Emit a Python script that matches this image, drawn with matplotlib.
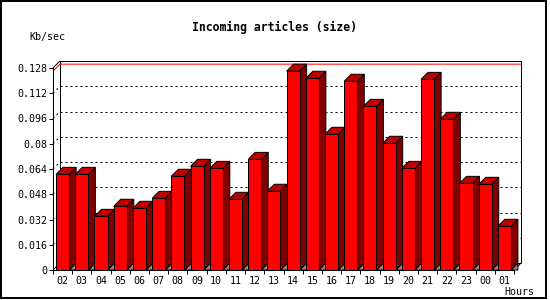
import matplotlib
matplotlib.use("Agg")
import matplotlib.pyplot as plt
from matplotlib.patches import Polygon, Rectangle

# data
hours = ["02", "03", "04", "05", "06", "07", "08", "09", "10", "11", "12", "13",
         "14", "15", "16", "17", "18", "19", "20", "21", "22", "23", "00", "01"]
kbsec = [0.0606, 0.0606, 0.0340, 0.0404, 0.0391, 0.0454, 0.0594, 0.0657,
         0.0644, 0.0448, 0.0701, 0.0499, 0.1260, 0.1215, 0.0860, 0.1196,
         0.1037, 0.0803, 0.0644, 0.1208, 0.0955, 0.0549, 0.0543, 0.0277]
yticks = [0, 0.016, 0.032, 0.048, 0.064, 0.08, 0.096, 0.112, 0.128]
ylabels = ["0", "0.016", "0.032", "0.048", "0.064", "0.08", "0.096", "0.112", "0.128"]

W, H = 550, 300
PX = 0.72  # one pixel in points at 100 dpi
FONT = "DejaVu Sans Mono"

fig = plt.figure(figsize=(5.5, 3), dpi=100)
fig.patch.set_facecolor("white")

# front plane of the pseudo 3d box, in pixels
x0, x1, y0, y1 = 53, 514, 270, 68
ax = fig.add_axes([x0 / W, 1 - y0 / H, (x1 - x0) / W, (y0 - y1) / H])
n = len(hours)
ymax = yticks[-1]
ax.set_xlim(-0.5, n - 0.5)
ax.set_ylim(0, ymax)
ax.patch.set_alpha(0)

depth = 7
dx = depth / ((x1 - x0) / n)
dy = depth / ((y0 - y1) / ymax)
left, right = -0.5, n - 0.5


def line(xs, ys, **kw):
    kw.setdefault("color", "black")
    kw.setdefault("lw", PX)
    ax.plot(xs, ys, clip_on=False, solid_capstyle="butt", **kw)


# back frame and dotted grid
line([left + dx, left + dx, right + dx, right + dx],
     [dy, ymax + dy, ymax + dy, dy], zorder=1)
line([left + dx, right + dx], [dy, dy], zorder=1)
line([left, left + dx], [ymax, ymax + dy], zorder=1)
line([left, left + dx], [0, dy], zorder=1)
line([right, right + dx], [0, dy], zorder=1)
for v in yticks[1:-1]:
    line([left + dx, right + dx], [v + dy, v + dy], zorder=1,
         linestyle=(0, (2, 3)))
    line([left, left + dx], [v, v + dy], zorder=1, linestyle=(0, (2, 3)))

# red line at the maximum
peak = max(kbsec)
line([left, left + dx, right + dx], [peak, peak + dy, peak + dy],
     color="red", zorder=1.5)

# bars
w = 0.68
for i, v in enumerate(kbsec):
    a, b = i - w / 2, i + w / 2
    z = 3 + i * 0.01
    ax.add_patch(Polygon([(b, 0), (b + dx, dy), (b + dx, 0)], closed=True,
                         fc="#8c8c8c", ec="black", lw=PX, zorder=z, clip_on=False))
    ax.add_patch(Polygon([(b, 0), (b + dx, dy), (b + dx, v + dy), (b, v)], closed=True,
                         fc="#800000", ec="black", lw=PX, zorder=z, clip_on=False))
    ax.add_patch(Polygon([(a, v), (a + dx, v + dy), (b + dx, v + dy), (b, v)], closed=True,
                         fc="#c00000", ec="black", lw=PX, zorder=z, clip_on=False))
    ax.add_patch(Rectangle((a, 0), w, v, fc="#ff0000", ec="black", lw=PX,
                           zorder=z, clip_on=False))

# axes
for s in ["top", "right"]:
    ax.spines[s].set_visible(False)
for s in ["left", "bottom"]:
    ax.spines[s].set_linewidth(PX)
    ax.spines[s].set_zorder(5)

ax.set_yticks(yticks)
ax.set_yticklabels(ylabels, fontfamily=FONT, fontsize=7.2)
ax.tick_params(axis="y", length=4 * PX, width=PX, pad=1.5)
ax.set_xticks(range(n))
ax.set_xticklabels(hours, fontfamily=FONT, fontsize=7.2)
ax.set_xticks([k - 0.5 for k in range(n + 1)], minor=True)
ax.tick_params(axis="x", which="major", length=0, pad=4)
ax.tick_params(axis="x", which="minor", length=4 * PX, width=PX)

# texts
fig.text(274 / W, 1 - 27 / H, "Incoming articles (size)", ha="center", va="center",
         fontfamily=FONT, fontweight="bold", fontsize=8.3)
fig.text(29 / W, 1 - 37 / H, "Kb/sec", ha="left", va="center",
         fontfamily=FONT, fontsize=7.2)
fig.text(534 / W, 1 - 292 / H, "Hours", ha="right", va="center",
         fontfamily=FONT, fontsize=7.2)

# image border
fig.patches.append(Rectangle((1 / W, 2 / H), 545 / W, 297 / H, transform=fig.transFigure,
                             fill=False, ec="black", lw=2 * PX))

fig.savefig("out.png", dpi=100)
